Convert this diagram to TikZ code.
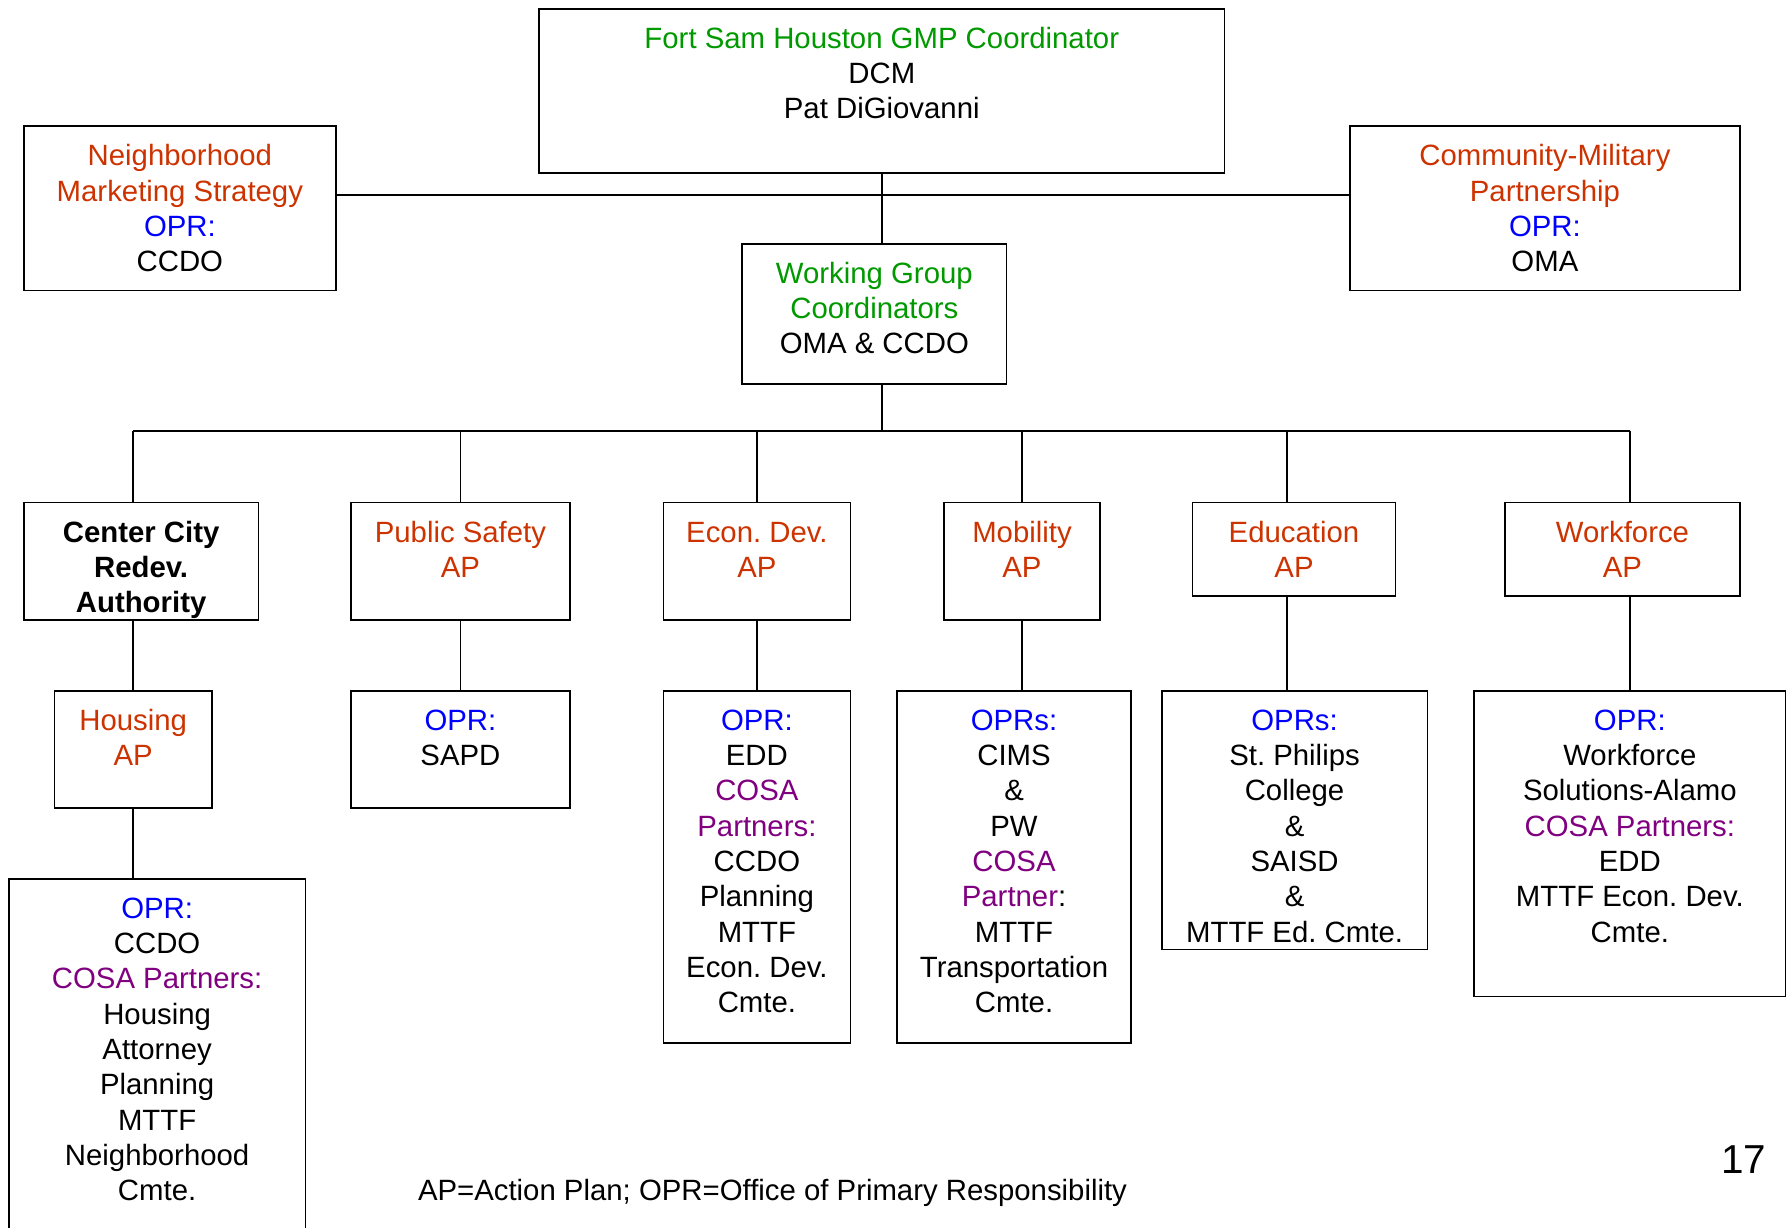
\documentclass[tikz,border=0pt]{standalone}
\usepackage{fontspec}
\setmainfont{Liberation Sans}
\usetikzlibrary{positioning}

\definecolor{cgreen}{RGB}{0,153,0}
\definecolor{corange}{RGB}{204,51,0}
\definecolor{cblue}{RGB}{0,0,255}
\definecolor{cpurple}{RGB}{128,0,128}

\newcommand{\gr}[1]{\textcolor{cgreen}{#1}}
\newcommand{\og}[1]{\textcolor{corange}{#1}}
\newcommand{\bl}[1]{\textcolor{cblue}{#1}}
\newcommand{\pu}[1]{\textcolor{cpurple}{#1}}
\newcommand{\fs}{\rule{0pt}{7pt}}

\frenchspacing
\tikzset{
  box/.style={draw, line width=0.5pt, inner sep=0pt, anchor=north west},
  txt/.style={inner sep=0pt, align=center, font=\fontsize{8.35}{10.05}\selectfont},
  conn/.style={draw, line width=0.5pt}
}

\begin{document}
\begin{tikzpicture}
  \clip (0,0) rectangle (17.88,-12.27);
  \useasboundingbox (0,0) rectangle (17.88,-12.27);

  % top level
  \node[box, minimum width=6.854cm, minimum height=1.642cm] (fsh) at (5.382,-0.080) {};
  \node[txt, below=0.15cm of fsh.north] {\fs\gr{Fort Sam Houston GMP Coordinator}\\DCM\\Pat DiGiovanni};
  \node[box, minimum width=3.124cm, minimum height=1.642cm] (nms) at (0.228,-1.254) {};
  \node[txt, below=0.15cm of nms.north] {\fs\og{Neighborhood}\\\og{Marketing Strategy}\\\bl{OPR:}\\CCDO};
  \node[box, minimum width=3.900cm, minimum height=1.642cm] (cmp) at (13.490,-1.254) {};
  \node[txt, below=0.15cm of cmp.north] {\fs\og{Community-Military}\\\og{Partnership}\\\bl{OPR:}\\OMA};
  \node[box, minimum width=2.645cm, minimum height=1.402cm] (wg) at (7.412,-2.429) {};
  \node[txt, below=0.15cm of wg.north] {\fs\gr{Working Group}\\\gr{Coordinators}\\OMA \& CCDO};

  % action plans
  \node[box, minimum width=2.349cm, minimum height=1.175cm] (ccra) at (0.228,-5.017) {};
  \node[txt, below=0.15cm of ccra.north] {\fs\bfseries Center City\\\bfseries Redev.\\\bfseries Authority};
  \node[box, minimum width=2.189cm, minimum height=1.175cm] (ps) at (3.501,-5.017) {};
  \node[txt, below=0.15cm of ps.north] {\fs\og{Public Safety}\\\og{AP}};
  \node[box, minimum width=1.870cm, minimum height=1.175cm] (ed) at (6.625,-5.017) {};
  \node[txt, below=0.15cm of ed.north] {\fs\og{Econ. Dev.}\\\og{AP}};
  \node[box, minimum width=1.562cm, minimum height=1.175cm] (mob) at (9.430,-5.017) {};
  \node[txt, below=0.15cm of mob.north] {\fs\og{Mobility}\\\og{AP}};
  \node[box, minimum width=2.030cm, minimum height=0.935cm] (edu) at (11.916,-5.017) {};
  \node[txt, below=0.15cm of edu.north] {\fs\og{Education}\\\og{AP}};
  \node[box, minimum width=2.349cm, minimum height=0.935cm] (wf) at (15.041,-5.017) {};
  \node[txt, below=0.15cm of wf.north] {\fs\og{Workforce}\\\og{AP}};

  % offices
  \node[box, minimum width=1.574cm, minimum height=1.174cm] (hap) at (0.536,-6.899) {};
  \node[txt, below=0.15cm of hap.north] {\fs\og{Housing}\\\og{AP}};
  \node[box, minimum width=2.189cm, minimum height=1.174cm] (sapd) at (3.501,-6.899) {};
  \node[txt, below=0.15cm of sapd.north] {\fs\bl{OPR:}\\SAPD};
  \node[box, minimum width=1.870cm, minimum height=3.523cm] (edopr) at (6.625,-6.899) {};
  \node[txt, below=0.15cm of edopr.north] {\fs\bl{OPR:}\\EDD\\\pu{COSA}\\\pu{Partners:}\\CCDO\\Planning\\MTTF\\Econ. Dev.\\Cmte.};
  \node[box, minimum width=2.337cm, minimum height=3.523cm] (mobopr) at (8.963,-6.899) {};
  \node[txt, below=0.15cm of mobopr.north] {\fs\bl{OPRs:}\\CIMS\\\&\\PW\\\pu{COSA}\\\pu{Partner}:\\MTTF\\Transportation\\Cmte.};
  \node[box, minimum width=2.657cm, minimum height=2.588cm] (eduopr) at (11.608,-6.899) {};
  \node[txt, below=0.15cm of eduopr.north] {\fs\bl{OPRs:}\\St. Philips\\College\\\&\\SAISD\\\&\\MTTF Ed. Cmte.};
  \node[box, minimum width=3.113cm, minimum height=3.056cm] (wfopr) at (14.733,-6.899) {};
  \node[txt, below=0.15cm of wfopr.north] {\fs\bl{OPR:}\\Workforce\\Solutions-Alamo\\\pu{COSA Partners:}\\EDD\\MTTF Econ. Dev.\\Cmte.};
  \node[box, minimum width=2.965cm, minimum height=3.700cm] (hopr) at (0.080,-8.780) {};
  \node[txt, below=0.15cm of hopr.north] {\fs\bl{OPR:}\\CCDO\\\pu{COSA Partners:}\\Housing\\Attorney\\Planning\\MTTF\\Neighborhood\\Cmte.};

  % connectors
  \coordinate (hub) at (fsh.south |- 0,-1.950);
  \coordinate (bus) at (fsh.south |- 0,-4.310);
  \path[conn] (nms.east |- hub) -- (cmp.west |- hub);
  \path[conn] (fsh.south) -- (fsh.south |- wg.north);
  \path[conn] (fsh.south |- wg.south) -- (bus);
  \path[conn] (hap.north |- bus) -- (wfopr.north |- bus);
  \path[conn] (hap.north |- bus) -- (hap.north |- ccra.north);
  \path[conn] (hap.north |- ccra.south) -- (hap.north);
  \path[conn] (hap.south) -- (hap.south |- hopr.north);
  \path[conn] (ps.north |- bus) -- (ps.north);
  \path[conn] (ps.south) -- (sapd.north);
  \path[conn] (ed.north |- bus) -- (ed.north);
  \path[conn] (ed.south) -- (edopr.north);
  \path[conn] (mob.north |- bus) -- (mob.north);
  \path[conn] (mob.south) -- (mob.south |- mobopr.north);
  \path[conn] ([xshift=-0.68mm]edu.north |- bus) -- ([xshift=-0.68mm]edu.north);
  \path[conn] ([xshift=-0.68mm]edu.south) -- ([xshift=-0.68mm]edu.south |- eduopr.north);
  \path[conn] (wfopr.north |- bus) -- (wfopr.north |- wf.north);
  \path[conn] (wfopr.north |- wf.south) -- (wfopr.north);

  % footnote and page number
  \node[txt, anchor=west] (note) at (4.173,-11.925) {AP=Action Plan; OPR=Office of Primary Responsibility};
  \node[txt, font=\fontsize{11.5}{13}\selectfont] (pgno) at (17.435,-11.597) {17};
\end{tikzpicture}
\end{document}
